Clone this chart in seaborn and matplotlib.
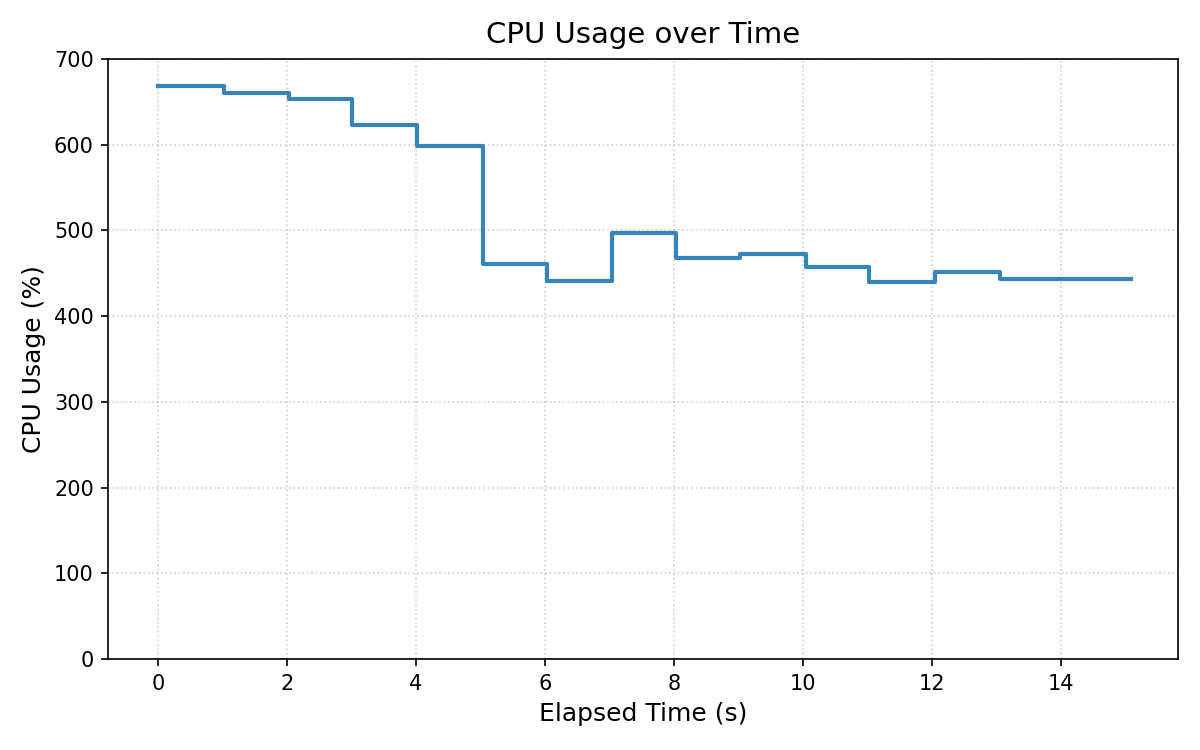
import matplotlib
matplotlib.use("Agg")
import matplotlib.pyplot as plt
import seaborn as sns
import pandas as pd

elapsed_time = [0.0, 1.02, 2.03, 3.01, 4.02, 5.04, 6.03, 7.04, 8.03, 9.03,
                10.04, 11.03, 12.04, 13.05, 14.06, 15.08]
cpu_usage = [668, 660, 653, 623, 598, 461, 441, 497, 468, 472,
             457, 440, 451, 443, 443, 443]

df = pd.DataFrame({"Elapsed Time (s)": elapsed_time, "CPU Usage (%)": cpu_usage})

fig, ax = plt.subplots(figsize=(8, 5), dpi=150)
sns.lineplot(data=df, x="Elapsed Time (s)", y="CPU Usage (%)", ax=ax,
             drawstyle="steps-post", color="tab:blue", alpha=0.9, linewidth=2)
ax.set_xlim(-0.77, 15.81)
ax.set_ylim(0, 700)
ax.set_title("CPU Usage over Time", fontsize=14, pad=7.5)
ax.set_xlabel("Elapsed Time (s)", fontsize=12)
ax.set_ylabel("CPU Usage (%)", fontsize=12)
ax.tick_params(labelsize=10)
ax.grid(True, linestyle=":", color="#b0b0b0", alpha=0.6, linewidth=0.8)
ax.set_axisbelow(True)
fig.subplots_adjust(left=0.0903, right=0.9814, top=0.9213, bottom=0.1213)
fig.savefig("out.png", dpi=150)
